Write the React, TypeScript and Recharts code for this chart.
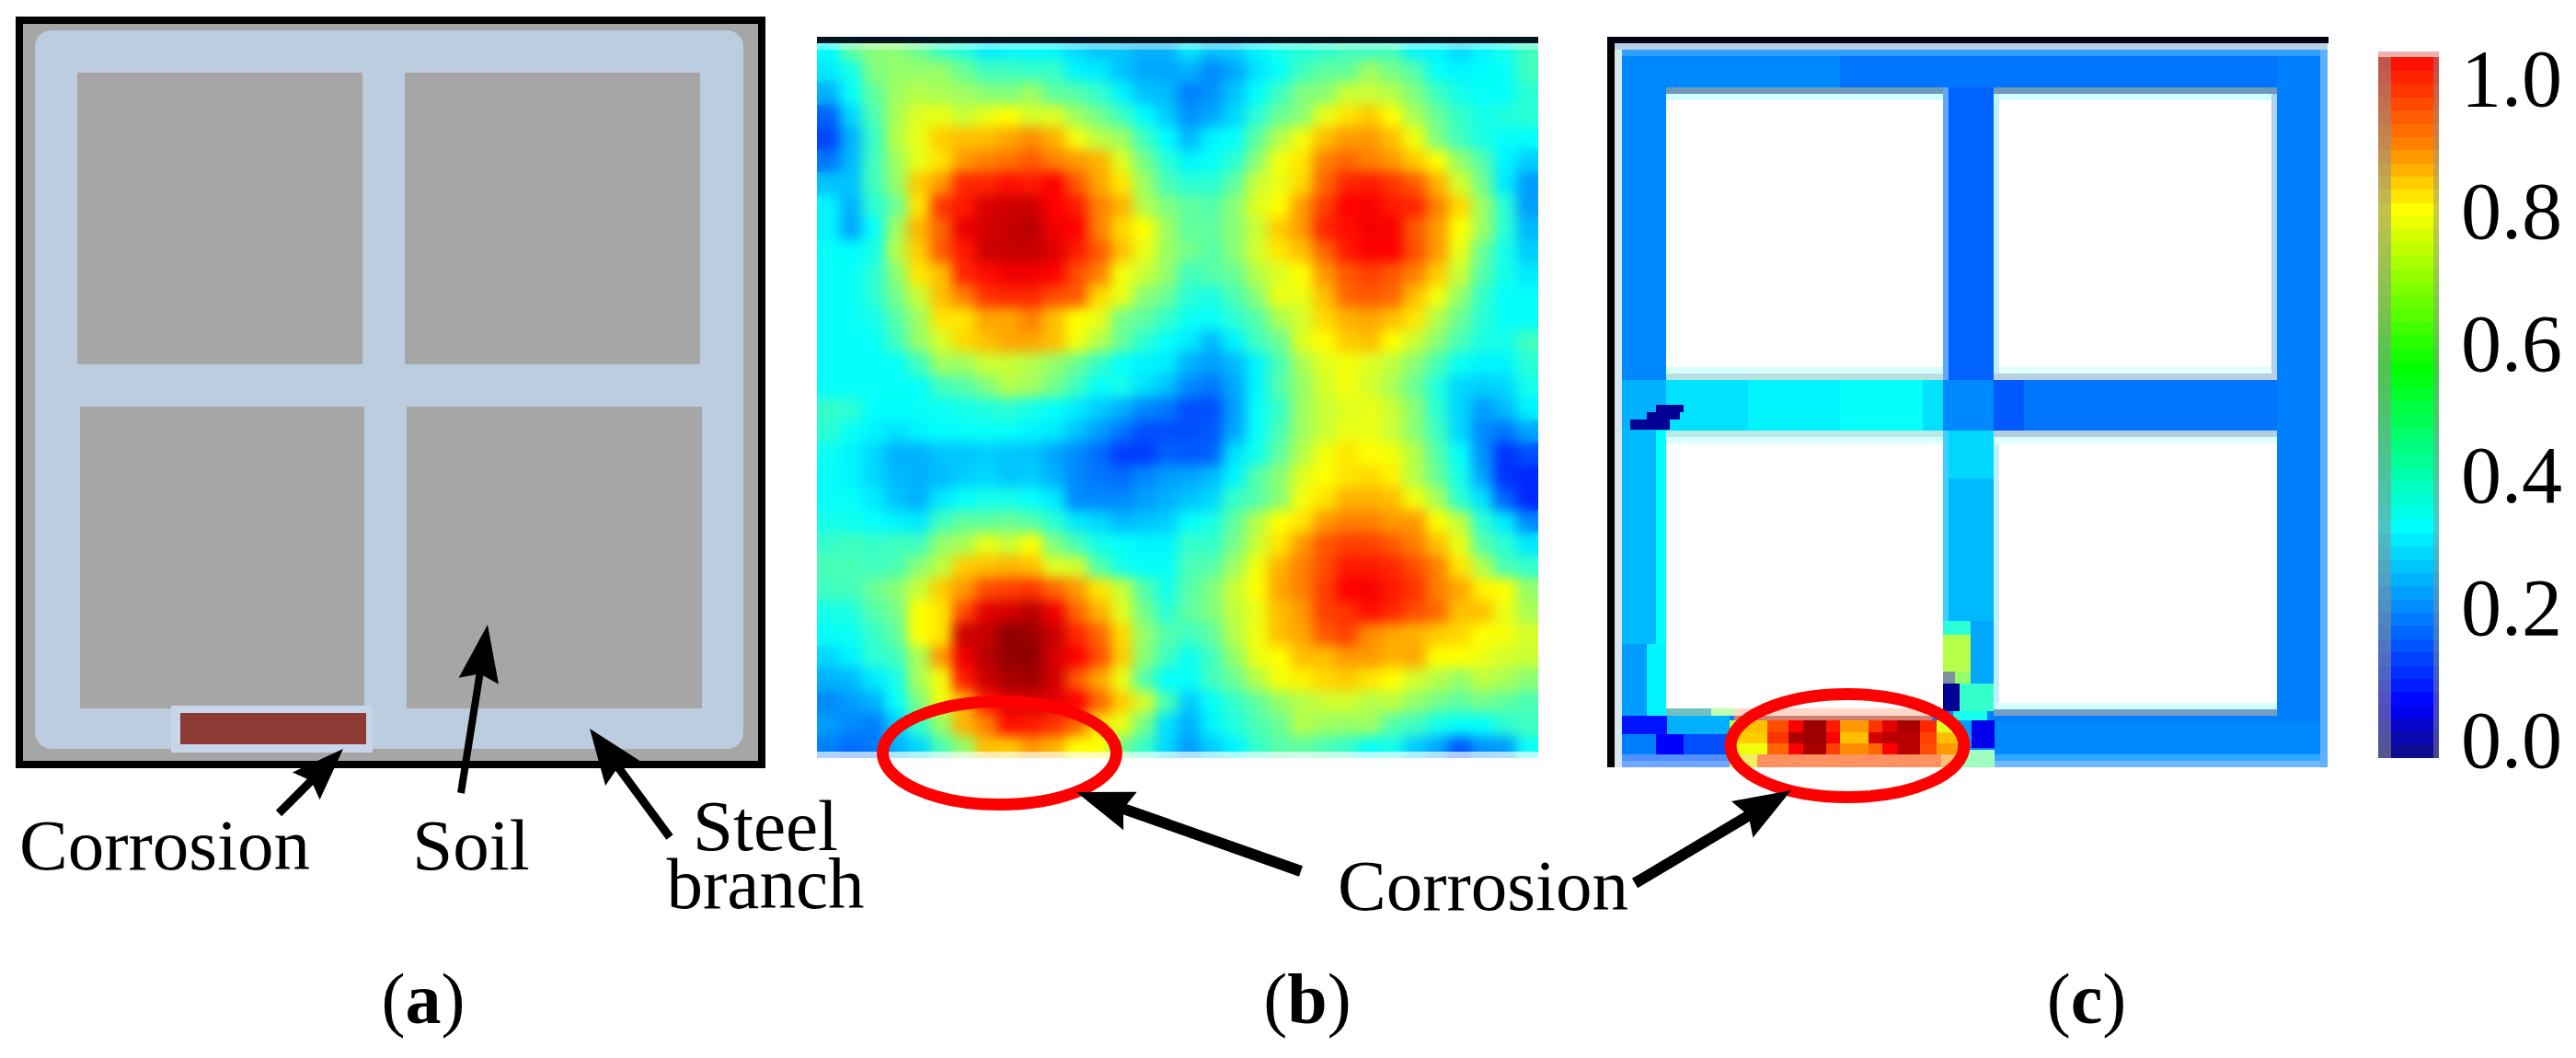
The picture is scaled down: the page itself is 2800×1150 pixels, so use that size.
import {
  ComposedChart,
  ReferenceArea,
  ReferenceDot,
  ReferenceLine,
  Scatter,
  ScatterChart,
  XAxis,
  YAxis,
} from 'recharts'

const SERIF = '"Liberation Serif", "Times New Roman", serif'
const CANVAS_W = 2800
const CANVAS_H = 1150

// Panel (b): normalised field, percent, one quadrant per list
const fieldTopLeft = [
  [32, 50, 58, 58, 52, 42, 38, 30, 31, 31, 31, 28, 26, 26, 24, 24],
  [30, 36, 56, 60, 60, 60, 52, 44, 44, 42, 42, 31, 30, 26, 23, 23],
  [24, 33, 50, 62, 66, 64, 62, 58, 56, 62, 50, 48, 42, 31, 26, 25],
  [16, 28, 46, 64, 74, 76, 70, 76, 80, 72, 74, 62, 54, 44, 32, 27],
  [13, 24, 42, 66, 76, 84, 85, 85, 87, 89, 86, 78, 68, 62, 44, 32],
  [18, 25, 44, 62, 76, 82, 88, 90, 91, 93, 90, 88, 86, 74, 54, 40],
  [26, 26, 44, 60, 84, 88, 97, 97, 99, 98, 100, 93, 87, 82, 62, 46],
  [31, 24, 40, 52, 82, 96, 98, 105, 107, 107, 100, 98, 90, 86, 66, 56],
  [31, 23, 33, 62, 86, 92, 103, 106, 108, 110, 102, 100, 90, 83, 80, 62],
  [33, 32, 36, 66, 84, 93, 98, 107, 108, 108, 105, 98, 93, 85, 76, 62],
  [33, 33, 40, 58, 82, 85, 97, 99, 102, 102, 100, 94, 90, 78, 70, 60],
  [33, 33, 40, 54, 70, 85, 90, 96, 97, 97, 94, 93, 83, 76, 58, 52],
  [33, 33, 36, 48, 62, 82, 82, 87, 87, 90, 85, 80, 76, 54, 50, 42],
  [33, 33, 33, 44, 60, 72, 83, 85, 87, 87, 85, 78, 66, 52, 40, 33],
  [33, 33, 33, 33, 44, 62, 62, 70, 70, 66, 60, 52, 42, 33, 31, 30],
  [33, 33, 33, 33, 33, 44, 48, 56, 66, 62, 54, 44, 33, 36, 29, 26],
]
const fieldTopRight = [
  [30, 26, 27, 31, 36, 38, 40, 44, 42, 44, 31, 31, 28, 31, 36, 44],
  [24, 20, 23, 29, 33, 44, 50, 50, 62, 54, 48, 33, 31, 32, 33, 44],
  [19, 21, 26, 32, 44, 56, 58, 70, 70, 66, 56, 44, 36, 33, 33, 40],
  [21, 23, 28, 40, 52, 58, 76, 82, 84, 80, 64, 52, 42, 36, 38, 40],
  [25, 31, 33, 50, 66, 78, 85, 88, 88, 85, 78, 56, 44, 37, 33, 33],
  [31, 33, 40, 58, 78, 82, 90, 92, 90, 88, 84, 80, 60, 48, 31, 27],
  [40, 40, 50, 70, 76, 83, 92, 97, 98, 96, 93, 86, 72, 54, 30, 22],
  [50, 48, 58, 74, 80, 88, 95, 100, 101, 98, 97, 90, 83, 62, 40, 22],
  [50, 50, 58, 70, 84, 88, 97, 99, 101, 101, 93, 88, 80, 62, 40, 25],
  [54, 48, 58, 72, 82, 85, 92, 98, 100, 100, 94, 88, 76, 52, 36, 27],
  [44, 48, 52, 66, 74, 80, 88, 93, 95, 93, 90, 84, 70, 48, 36, 30],
  [40, 37, 46, 58, 76, 76, 85, 92, 93, 92, 85, 78, 60, 42, 33, 33],
  [34, 33, 40, 48, 64, 72, 83, 86, 87, 85, 82, 66, 52, 40, 33, 33],
  [30, 25, 31, 44, 52, 74, 80, 84, 85, 80, 70, 58, 46, 37, 36, 44],
  [24, 22, 25, 31, 46, 64, 74, 78, 74, 68, 58, 46, 34, 31, 31, 40],
  [20, 18, 23, 31, 48, 60, 72, 78, 72, 64, 52, 38, 28, 27, 28, 36],
]
const fieldBottomLeft = [
  [42, 40, 33, 32, 33, 34, 36, 38, 40, 36, 33, 30, 27, 24, 20, 18],
  [40, 34, 31, 29, 31, 32, 33, 33, 33, 31, 30, 26, 22, 18, 14, 14],
  [34, 31, 28, 24, 24, 26, 26, 27, 26, 26, 23, 20, 17, 12, 12, 16],
  [33, 31, 28, 25, 24, 25, 27, 28, 26, 27, 24, 20, 18, 17, 20, 22],
  [33, 33, 30, 26, 24, 30, 33, 36, 36, 33, 30, 20, 20, 20, 22, 24],
  [36, 35, 33, 31, 30, 44, 50, 50, 52, 48, 40, 30, 28, 25, 26, 27],
  [42, 44, 42, 44, 44, 60, 64, 76, 70, 80, 56, 46, 36, 33, 31, 31],
  [46, 46, 44, 46, 58, 68, 84, 85, 86, 85, 74, 72, 48, 36, 33, 33],
  [44, 44, 52, 58, 70, 84, 88, 94, 95, 96, 92, 88, 82, 70, 48, 36],
  [36, 38, 48, 54, 80, 82, 94, 104, 106, 110, 102, 92, 86, 74, 54, 40],
  [33, 34, 42, 50, 80, 82, 107, 108, 116, 114, 108, 97, 92, 83, 60, 48],
  [28, 31, 40, 44, 64, 88, 102, 110, 115, 116, 106, 100, 94, 84, 58, 44],
  [24, 25, 30, 36, 64, 78, 98, 107, 112, 113, 107, 93, 87, 76, 48, 33],
  [20, 22, 24, 33, 56, 78, 86, 98, 104, 106, 104, 100, 92, 84, 72, 46],
  [22, 20, 19, 27, 42, 60, 86, 90, 99, 98, 96, 92, 82, 76, 54, 29],
  [19, 17, 18, 24, 28, 46, 60, 85, 84, 88, 86, 80, 80, 54, 42, 28],
]
const fieldBottomRight = [
  [14, 14, 22, 33, 42, 62, 70, 74, 76, 70, 58, 40, 28, 22, 25, 31],
  [14, 15, 23, 33, 46, 62, 70, 76, 76, 70, 58, 44, 28, 20, 18, 23],
  [15, 16, 29, 35, 50, 66, 78, 82, 80, 78, 66, 48, 33, 21, 11, 14],
  [23, 25, 31, 48, 58, 74, 80, 82, 83, 81, 66, 52, 36, 23, 11, 10],
  [26, 28, 42, 48, 58, 78, 82, 86, 86, 85, 78, 64, 40, 29, 16, 10],
  [33, 36, 50, 66, 80, 82, 88, 90, 90, 88, 88, 80, 68, 40, 30, 20],
  [42, 42, 54, 70, 82, 88, 93, 95, 95, 93, 90, 85, 76, 48, 40, 30],
  [46, 48, 62, 78, 86, 90, 94, 98, 98, 97, 94, 90, 82, 66, 46, 42],
  [48, 56, 70, 80, 87, 90, 95, 100, 101, 98, 96, 90, 87, 81, 80, 60],
  [50, 56, 68, 76, 85, 88, 95, 96, 99, 97, 94, 92, 85, 85, 76, 64],
  [44, 50, 66, 78, 85, 87, 93, 95, 89, 87, 86, 84, 83, 80, 78, 72],
  [34, 44, 60, 76, 80, 85, 85, 88, 88, 86, 87, 80, 80, 76, 72, 70],
  [33, 44, 52, 66, 78, 81, 83, 84, 82, 80, 72, 66, 60, 68, 64, 58],
  [27, 33, 42, 50, 60, 66, 70, 72, 66, 68, 60, 54, 50, 54, 50, 46],
  [24, 31, 38, 46, 52, 66, 62, 60, 62, 48, 44, 36, 33, 33, 40, 44],
  [22, 27, 31, 42, 48, 50, 46, 42, 33, 36, 27, 23, 15, 21, 22, 34],
]

// Panel (c): steel field patches in figure pixels [x1, x2, y1, y2, percent]
const steelPatches = [
  [1755, 2530, 47, 834, 19],
  [1763, 2000, 54, 95, 20],
  [2000, 2530, 54, 95, 18],
  [1763, 1811, 54, 413, 20],
  [2112, 2167, 95, 413, 16],
  [2475, 2522, 54, 778, 19],
  [1763, 1811, 413, 468, 24],
  [1811, 1900, 413, 468, 29],
  [1900, 2000, 413, 468, 31],
  [2000, 2090, 413, 468, 33],
  [2090, 2112, 413, 468, 29],
  [2112, 2167, 413, 468, 20],
  [2167, 2200, 413, 468, 15],
  [2200, 2475, 413, 468, 18],
  [1800, 1830, 440, 448, 1],
  [1790, 1826, 448, 456, 1],
  [1772, 1815, 456, 467, 1],
  [1763, 1800, 468, 700, 25],
  [1800, 1811, 468, 700, 32],
  [1763, 1790, 700, 778, 22],
  [1790, 1811, 700, 778, 31],
  [2112, 2167, 468, 520, 28],
  [2112, 2167, 520, 675, 25],
  [2112, 2142, 675, 690, 40],
  [2142, 2167, 675, 745, 23],
  [2112, 2142, 690, 730, 66],
  [2125, 2142, 730, 743, 60],
  [2112, 2130, 743, 773, 1],
  [2130, 2167, 743, 773, 42],
  [2123, 2160, 773, 797, 36],
  [1763, 1812, 778, 798, 8],
  [1812, 1880, 778, 798, 24],
  [1763, 1800, 798, 820, 19],
  [1800, 1830, 798, 820, 6],
  [1830, 1880, 798, 820, 14],
  [2128, 2143, 783, 815, 22],
  [2143, 2168, 783, 813, 5],
  [2168, 2530, 785, 820, 20],
]
// Corrosion spot in panel (c): three rows across the same columns
const spotColumns = [1880, 1888, 1921, 1944, 1960, 1985, 2000, 2031, 2046, 2062, 2087, 2105, 2128]
const spotRowEdges = [783, 796, 808, 820]
const spotRowA = [68, 85, 94, 100, 114, 98, 88, 96, 104, 112, 97, 75]
const spotRowB = [66, 84, 96, 112, 114, 100, 85, 106, 110, 110, 95, 85]
const spotRowC = [64, 78, 92, 100, 112, 95, 89, 92, 100, 110, 94, 88]

const steelWindows = [
  [1811, 2112, 95, 413],
  [2167, 2475, 95, 413],
  [1811, 2112, 468, 770],
  [2167, 2475, 468, 778],
]
const steelEdges: [number, number, number, number, string][] = [
  [1755, 1763, 47, 834, '#d8e8f0'],
  [1755, 2530, 47, 54, '#b8cfe8'],
  [1763, 2530, 54, 61, '#30a0ff'],
  [2522, 2530, 54, 834, '#60b0ff'],
  [1763, 1880, 820, 827, '#5090ff'],
  [1763, 1880, 827, 834, '#70a8ff'],
  [1880, 1910, 820, 834, '#f0f060'],
  [1910, 2110, 820, 834, '#ff9060'],
  [2110, 2128, 820, 834, '#ffc070'],
  [2128, 2168, 815, 834, '#a0ffc0'],
  [2168, 2522, 820, 827, '#30a8ff'],
  [2168, 2522, 827, 834, '#70b8ff'],
  [1811, 1860, 770, 778, '#70c0c0'],
  [1860, 1885, 770, 778, '#c0ffb0'],
  [1885, 2112, 770, 778, '#ffd8c8'],
  [1885, 2100, 778, 783, '#d08070'],
  [2167, 2475, 771, 778, '#70a0c8'],
  [2167, 2475, 764, 771, '#d0ffff'],
  [1811, 2112, 95, 102, '#7098b8'],
  [2167, 2475, 95, 102, '#7098b8'],
  [1811, 2112, 102, 109, '#d0ffff'],
  [2167, 2475, 102, 109, '#d0ffff'],
  [1811, 2112, 406, 413, '#b8e0e0'],
  [2167, 2475, 406, 413, '#b8d0e0'],
  [1811, 2112, 399, 406, '#d8ffff'],
  [2167, 2475, 399, 406, '#e0ffff'],
  [1811, 2112, 468, 475, '#b8e8e8'],
  [2167, 2475, 468, 475, '#b0d0e0'],
  [1811, 2112, 475, 482, '#d8ffff'],
  [2167, 2475, 475, 482, '#e0ffff'],
  [2112, 2118, 95, 413, '#60a8ff'],
  [2167, 2173, 102, 406, '#c0f0ff'],
  [2469, 2475, 102, 406, '#b0d0f0'],
  [2112, 2118, 468, 675, '#40d0ff'],
  [2167, 2173, 482, 764, '#c0f0ff'],
  [2112, 2125, 730, 743, '#8090a0'],
  [1747, 1755, 40, 834, '#000000'],
  [1747, 2531, 40, 47, '#000010'],
]

// Panel (a): schematic in figure pixels
const frameBox = [21, 828, 22, 831]
const steelBox = [38, 808, 33, 814]
const soilBlocks = [
  [84, 394, 79, 396],
  [440, 761, 79, 396],
  [87, 396, 442, 770],
  [442, 763, 442, 770],
]
const corrosionHalo = [186, 405, 767, 818]
const corrosionBar = [196, 398, 775, 809]

// Panel (b) edge bands
const fieldTopLine = [888, 1672, 40, 47]
const fieldPaleBands = [
  [888, 1672, 47, 54, 0.4],
  [888, 1672, 817, 824, 0.68],
]

// [tailX, tailY, tipX, tipY, shaft, headLength, headWidth]
const arrows = [
  [303, 884, 373, 814, 9, 57, 42],
  [501, 862, 530, 679, 8, 62, 44],
  [728, 910, 641, 792, 9, 60, 46],
  [1414, 947, 1170, 861, 12, 62, 44],
  [1777, 960, 1947, 859, 12, 62, 46],
]
// [centreX, centreY]
const corrosionRings = [
  [1086.5, 818.5],
  [2008, 810.5],
]
const labelTexts = ['Corrosion', 'Soil', 'Corrosion']
const labelX = [179, 512, 1612]
const labelY = [945, 945, 989]
const stackedLabelLines = ['Steel', 'branch']
const stackedLabelX = 832
const stackedLabelY = 924
const captionLetters = ['a', 'b', 'c']
const captionX = [460, 1421, 2268]
const captionY = 1112

// Colour bar
const barTicks = [0, 0.2, 0.4, 0.6, 0.8, 1]
const barLevels = [
  -0.02, 0, 0.02, 0.04, 0.06, 0.08, 0.1, 0.12, 0.14, 0.16, 0.18, 0.2, 0.22, 0.24, 0.26, 0.28, 0.3,
  0.32, 0.34, 0.36, 0.38, 0.4, 0.42, 0.44, 0.46, 0.48, 0.5, 0.52, 0.54, 0.56, 0.58, 0.6, 0.62, 0.64,
  0.66, 0.68, 0.7, 0.72, 0.74, 0.76, 0.78, 0.8, 0.82, 0.84, 0.86, 0.88, 0.9, 0.92, 0.94, 0.96, 0.98,
  1, 1.02,
]

const heatStops: [number, number[]][] = [
  [0, [0, 0, 128]],
  [6, [0, 0, 255]],
  [32, [0, 255, 255]],
  [80, [255, 255, 0]],
  [100, [255, 0, 0]],
  [118, [128, 0, 0]],
]
const barStops: [number, number[]][] = [
  [-0.03, [16, 16, 128]],
  [0.05, [0, 0, 255]],
  [0.32, [0, 255, 255]],
  [0.44, [0, 255, 128]],
  [0.56, [0, 255, 0]],
  [0.8, [255, 255, 0]],
  [0.9, [255, 128, 0]],
  [1.02, [255, 16, 0]],
]

function ramp(stops: [number, number[]][], v: number) {
  if (v <= stops[0][0]) return `rgb(${stops[0][1].join(',')})`
  for (let i = 1; i < stops.length; i++) {
    const [hi, hiColor] = stops[i]
    const [lo, loColor] = stops[i - 1]
    if (v <= hi) {
      const t = (v - lo) / (hi - lo)
      const rgb = loColor.map((c, k) => Math.round(c + (hiColor[k] - c) * t))
      return `rgb(${rgb.join(',')})`
    }
  }
  return `rgb(${stops[stops.length - 1][1].join(',')})`
}

const FIELD_SIZE = 784
const FIELD_CELLS = 32
const fieldRows = [
  ...fieldTopLeft.map((row, i) => [...row, ...fieldTopRight[i]]),
  ...fieldBottomLeft.map((row, i) => [...row, ...fieldBottomRight[i]]),
]
const fieldPoints = fieldRows.flatMap((row, r) =>
  row.map((value, c) => ({ col: c + 0.5, row: r + 0.5, value })),
)
const barPoints = barLevels.map((level) => ({ x: 0.5, level }))
const spotPatches = [spotRowA, spotRowB, spotRowC].flatMap((row, r) =>
  row.map((value, c) => [
    spotColumns[c],
    spotColumns[c + 1],
    spotRowEdges[r],
    spotRowEdges[r + 1],
    value,
  ]),
)

function FieldCell({ cx, cy, payload }: any) {
  const size = FIELD_SIZE / FIELD_CELLS
  return (
    <rect
      x={cx - size / 2}
      y={cy - size / 2}
      width={size + 0.5}
      height={size + 0.5}
      fill={ramp(heatStops, payload.value)}
      shapeRendering="crispEdges"
    />
  )
}

function BarCell({ cx, cy, payload }: any) {
  const color = ramp(barStops, payload.level)
  const h = 14.9
  const left = cx - 33
  return (
    <g shapeRendering="crispEdges">
      <rect x={left} y={cy - h / 2} width={66} height={h} fill={color} />
      <rect x={left} y={cy - h / 2} width={14} height={h} fill="#909090" fillOpacity={0.55} />
      <rect x={left + 60} y={cy - h / 2} width={6} height={h} fill="#909090" fillOpacity={0.45} />
    </g>
  )
}

function box(key: string, [x1, x2, y1, y2]: number[], fill: string, extra: any = {}) {
  return (
    <ReferenceArea
      key={key}
      x1={x1}
      x2={x2}
      y1={y1}
      y2={y2}
      fill={fill}
      fillOpacity={1}
      stroke="none"
      shapeRendering="crispEdges"
      {...extra}
    />
  )
}

// Barbed head, tip at the dot, pointing along the arrow
function ArrowHead({ cx, cy, dx, dy, length, width }: any) {
  const norm = Math.hypot(dx, dy)
  const ux = dx / norm
  const uy = dy / norm
  const bx = cx - ux * length
  const by = cy - uy * length
  const points = [
    [cx, cy],
    [bx - (uy * width) / 2, by + (ux * width) / 2],
    [bx + ux * 8, by + uy * 8],
    [bx + (uy * width) / 2, by - (ux * width) / 2],
  ]
  return <polygon points={points.map((p) => p.join(',')).join(' ')} fill="#000" />
}

function FieldChart() {
  return (
    <ScatterChart
      width={FIELD_SIZE}
      height={FIELD_SIZE}
      margin={{ top: 0, right: 0, bottom: 0, left: 0 }}
    >
      <XAxis type="number" dataKey="col" domain={[0, FIELD_CELLS]} hide />
      <YAxis type="number" dataKey="row" domain={[0, FIELD_CELLS]} reversed hide />
      <Scatter data={fieldPoints} shape={<FieldCell />} isAnimationActive={false} />
    </ScatterChart>
  )
}

// The picture is a resampled bitmap, so a soft copy sits over a crisp one to keep the edges solid
function FieldPanel() {
  return (
    <div
      style={{
        position: 'absolute',
        left: 888,
        top: 40,
        width: FIELD_SIZE,
        height: FIELD_SIZE,
        overflow: 'hidden',
      }}
    >
      <div style={{ position: 'absolute', left: 0, top: 0 }}>
        <FieldChart />
      </div>
      <div style={{ position: 'absolute', left: 0, top: 0, filter: 'blur(7px)' }}>
        <FieldChart />
      </div>
    </div>
  )
}

function ColorBar() {
  return (
    <div style={{ position: 'absolute', left: 2585, top: 20 }}>
      <ScatterChart
        width={215}
        height={840}
        margin={{ top: 36, right: 0, bottom: 39, left: 0 }}
      >
        <XAxis type="number" dataKey="x" domain={[0, 1]} hide />
        <YAxis
          type="number"
          dataKey="level"
          orientation="right"
          domain={[-0.026, 1.039]}
          ticks={barTicks}
          width={149}
          tickSize={0}
          tickMargin={24}
          axisLine={false}
          tickLine={false}
          interval={0}
          tickFormatter={(v) => Number(v).toFixed(1)}
          tick={{ fill: '#000', fontSize: 88, fontFamily: SERIF }}
        />
        <Scatter data={barPoints} shape={<BarCell />} isAnimationActive={false} />
        {box('bar-top', [0, 1, 1.025, 1.039], '#f0b0b0')}
        {box('bar-bottom', [0, 1, -0.026, -0.017], '#c8c8ff')}
      </ScatterChart>
    </div>
  )
}

function Overlay() {
  return (
    <div style={{ position: 'absolute', left: 0, top: 0 }}>
      <ComposedChart
        width={CANVAS_W}
        height={CANVAS_H}
        data={[{ x: 0, y: 0 }]}
        margin={{ top: 0, right: 0, bottom: 0, left: 0 }}
      >
        <XAxis type="number" dataKey="x" domain={[0, CANVAS_W]} hide />
        <YAxis type="number" dataKey="y" domain={[0, CANVAS_H]} reversed hide />

        {box('frame', frameBox, '#a6a6a6', { stroke: '#000', strokeWidth: 8 })}
        {box('steel', steelBox, '#bdcde0', { radius: 18, shapeRendering: 'auto' })}
        {soilBlocks.map((b, i) => box(`soil-${i}`, b, '#a6a6a6'))}
        {box('halo', corrosionHalo, '#c6d6e8')}
        {box('bar', corrosionBar, '#8e3a35')}

        {box('b-line', fieldTopLine, '#001420')}
        {fieldPaleBands.map((b, i) => box(`b-pale-${i}`, b, '#fff', { fillOpacity: b[4] }))}

        {steelPatches.map((p, i) => box(`c-${i}`, p, ramp(heatStops, p[4])))}
        {spotPatches.map((p, i) => box(`spot-${i}`, p, ramp(heatStops, p[4])))}
        {steelWindows.map((w, i) => box(`c-w-${i}`, w, '#fff'))}
        {steelEdges.map((e, i) => box(`c-e-${i}`, e.slice(0, 4) as number[], e[4]))}

        {arrows.map(([x1, y1, x2, y2, shaft, length], i) => {
          const norm = Math.hypot(x2 - x1, y2 - y1)
          const keep = (norm - length + 10) / norm
          return (
            <ReferenceLine
              key={`shaft-${i}`}
              segment={[
                { x: x1, y: y1 },
                { x: x1 + (x2 - x1) * keep, y: y1 + (y2 - y1) * keep },
              ]}
              stroke="#000"
              strokeWidth={shaft}
            />
          )
        })}
        {corrosionRings.map(([x, y], i) => (
          <ReferenceDot
            key={`ring-${i}`}
            x={x}
            y={y}
            shape={({ cx, cy }: any) => (
              <ellipse cx={cx} cy={cy} rx={127} ry={56} fill="none" stroke="#ff0000" strokeWidth={13} />
            )}
          />
        ))}
        {arrows.map(([x1, y1, x2, y2, , length, width], i) => (
          <ReferenceDot
            key={`head-${i}`}
            x={x2}
            y={y2}
            shape={({ cx, cy }: any) => (
              <ArrowHead cx={cx} cy={cy} dx={x2 - x1} dy={y2 - y1} length={length} width={width} />
            )}
          />
        ))}
        {labelTexts.map((text, i) => (
          <ReferenceDot
            key={`label-${i}`}
            x={labelX[i]}
            y={labelY[i]}
            shape={({ cx, cy }: any) => (
              <text x={cx} y={cy} textAnchor="middle" fontFamily={SERIF} fontSize={79} fill="#000">
                {text}
              </text>
            )}
          />
        ))}
        <ReferenceDot
          x={stackedLabelX}
          y={stackedLabelY}
          shape={({ cx, cy }: any) => (
            <text y={cy} textAnchor="middle" fontFamily={SERIF} fontSize={79} fill="#000">
              {stackedLabelLines.map((line, i) => (
                <tspan key={line} x={cx} dy={i === 0 ? 0 : 63}>
                  {line}
                </tspan>
              ))}
            </text>
          )}
        />
        {captionLetters.map((letter, i) => (
          <ReferenceDot
            key={`caption-${i}`}
            x={captionX[i]}
            y={captionY}
            shape={({ cx, cy }: any) => (
              <text x={cx} y={cy} textAnchor="middle" fontFamily={SERIF} fontSize={78} fill="#000">
                (<tspan fontWeight="bold">{letter}</tspan>)
              </text>
            )}
          />
        ))}
      </ComposedChart>
    </div>
  )
}

export default function App() {
  return (
    <div
      style={{
        position: 'absolute',
        left: 0,
        top: 0,
        width: CANVAS_W,
        height: CANVAS_H,
        background: '#fff',
        overflow: 'hidden',
      }}
    >
      <FieldPanel />
      <ColorBar />
      <Overlay />
    </div>
  )
}
